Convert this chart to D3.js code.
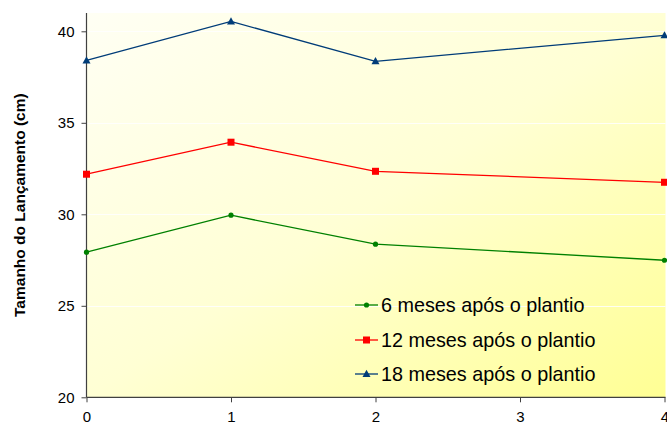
<!DOCTYPE html>
<html><head><meta charset="utf-8">
<script src="https://cdn.jsdelivr.net/npm/d3@7"></script>
<style>body{margin:0;background:#fff;} svg{display:block;font-family:"Liberation Sans",Arial,sans-serif;}</style>
</head><body>
<svg id="c" width="667" height="425"></svg>
<script>
const xValues = [0, 1, 2, 4];
const seriesNames = ["6 meses após o plantio", "12 meses após o plantio", "18 meses após o plantio"];
const s6 = [27.93, 29.95, 28.37, 27.49];
const s12 = [32.19, 33.94, 32.35, 31.75];
const s18 = [38.41, 40.54, 38.36, 39.78];
const xTicks = [0, 1, 2, 3, 4];
const yTicks = [20, 25, 30, 35, 40];
const colors = ["#008000", "#FF0000", "#003C78"];
const markers = ["circle", "square", "triangle"];
const yTitle = "Tamanho do Lançamento (cm)";

const svg = d3.select("#c");
const m = {left: 86.5, right: 664.5, top: 13, bottom: 397.3};
const x = d3.scaleLinear().domain([0, 4]).range([m.left, m.right]);
const y = d3.scaleLinear().domain([20, 41]).range([m.bottom, m.top]);

const defs = svg.append("defs");
const g = defs.append("linearGradient").attr("id", "bg").attr("x1", "0").attr("y1", "0").attr("x2", "1").attr("y2", "1");
g.append("stop").attr("offset", "0").attr("stop-color", "#FFFFF4");
g.append("stop").attr("offset", "0.5").attr("stop-color", "#FFFFD4");
g.append("stop").attr("offset", "1").attr("stop-color", "#FFFF94");

svg.append("rect").attr("x", m.left).attr("y", m.top).attr("width", m.right - m.left + 1).attr("height", m.bottom - m.top).attr("fill", "url(#bg)");

// gridlines
svg.append("g").selectAll("line").data(yTicks.filter(d => d > 20)).join("line")
  .attr("x1", m.left).attr("x2", m.right + 1)
  .attr("y1", d => Math.round(y(d)) + 0.5).attr("y2", d => Math.round(y(d)) + 0.5)
  .attr("stroke", "#ffffff").attr("stroke-opacity", 0.85).attr("stroke-width", 1);

// axes
const yAxis = d3.axisLeft(y).tickValues(yTicks).tickSize(5).tickPadding(7).tickFormat(d3.format("d"));
const ya = svg.append("g").attr("transform", `translate(${m.left},0)`).call(yAxis);
const xAxis = d3.axisBottom(x).tickValues(xTicks).tickSize(5).tickPadding(9.5).tickFormat(d3.format("d"));
const xa = svg.append("g").attr("transform", `translate(0,${m.bottom})`).call(xAxis);
[ya, xa].forEach(a => {
  a.select(".domain").attr("stroke", "#404040").attr("stroke-width", 1.2);
  a.selectAll(".tick line").attr("stroke", "#404040");
  a.selectAll(".tick text").attr("fill", "#000").style("font-size", "15px").style("font-family", "Liberation Sans, Arial, sans-serif");
});
ya.select(".domain").attr("d", `M0,${m.top}V${m.bottom}`);
xa.select(".domain").attr("d", `M${m.left},0H${m.right + 1}`);

// y title
svg.append("text").attr("transform", `translate(19,${(m.top + m.bottom) / 2}) rotate(-90)`)
  .attr("text-anchor", "middle").attr("dominant-baseline", "central")
  .style("font-size", "15.5px").style("font-weight", "bold").text(yTitle);

function drawMarker(sel, type, color, cx, cy) {
  if (type === "circle") sel.append("circle").attr("cx", cx).attr("cy", cy).attr("r", 2.6).attr("fill", color);
  else if (type === "square") sel.append("rect").attr("x", cx - 3.5).attr("y", cy - 3.5).attr("width", 7).attr("height", 7).attr("fill", color);
  else sel.append("path").attr("d", `M${cx},${cy - 4.2}L${cx + 4},${cy + 3}L${cx - 4},${cy + 3}Z`).attr("fill", color);
}

const allSeries = [s6, s12, s18];
const line = d3.line().x((d, i) => x(xValues[i])).y(d => y(d));
allSeries.forEach((s, k) => {
  const gs = svg.append("g");
  gs.append("path").datum(s).attr("d", line).attr("fill", "none").attr("stroke", colors[k]).attr("stroke-width", 1.3);
  s.forEach((v, i) => drawMarker(gs, markers[k], colors[k], x(xValues[i]), y(v)));
});

// legend
const legY = [305, 340, 374];
seriesNames.forEach((n, k) => {
  const lg = svg.append("g");
  lg.append("line").attr("x1", 355).attr("x2", 378).attr("y1", legY[k]).attr("y2", legY[k]).attr("stroke", colors[k]).attr("stroke-width", 1.3);
  drawMarker(lg, markers[k], colors[k], 366.5, legY[k]);
  lg.append("text").attr("x", 381).attr("y", legY[k]).attr("dominant-baseline", "central")
    .style("font-size", "19.8px").attr("fill", "#000").text(n);
});
</script>
</body></html>
